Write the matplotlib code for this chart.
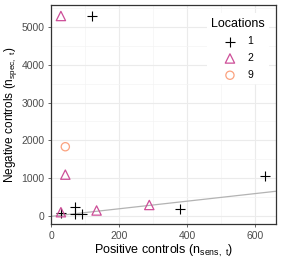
import matplotlib
matplotlib.use('Agg')
import matplotlib.pyplot as plt
from matplotlib.ticker import MultipleLocator

plt.rcParams['font.family'] = ['Liberation Sans', 'DejaVu Sans']
plt.rcParams['mathtext.fontset'] = 'custom'
plt.rcParams['mathtext.rm'] = 'Liberation Sans'

# data
loc1_x = [120, 630, 380, 28, 70, 70, 92]
loc1_y = [5270, 1075, 185, 80, 235, 55, 55]
loc2_x = [29, 42, 29, 134, 289]
loc2_y = [5280, 1100, 110, 155, 300]
loc9_x = [42]
loc9_y = [1835]

fig = plt.figure(figsize=(2.82, 2.63), dpi=100)
ax = fig.add_axes([0.181, 0.147, 0.798, 0.834])

# identity line
ax.axline((0, 0), slope=1, color='#B3B3B3', lw=0.9, zorder=2)

ax.scatter(loc1_x, loc1_y, marker='+', s=60, color='black', lw=0.8, label='1', zorder=3)
ax.scatter(loc2_x, loc2_y, marker='^', s=45, facecolor='none', edgecolor='#CD4E98', lw=0.9, label='2', zorder=3)
ax.scatter(loc9_x, loc9_y, marker='o', s=35, facecolor='none', edgecolor='#FBA27F', lw=0.9, label='9', zorder=3)

ax.set_xlim(0, 662)
ax.set_ylim(-210, 5570)
ax.xaxis.set_major_locator(MultipleLocator(200))
ax.xaxis.set_minor_locator(MultipleLocator(100))
ax.yaxis.set_major_locator(MultipleLocator(1000))
ax.yaxis.set_minor_locator(MultipleLocator(500))
ax.grid(which='major', color='#EBEBEB', lw=0.8, zorder=0)
ax.grid(which='minor', color='#F4F4F4', lw=0.5, zorder=0)
ax.set_axisbelow(True)
for s in ax.spines.values():
    s.set_color('#333333')
    s.set_linewidth(0.9)
ax.tick_params(which='major', labelsize=7.5, colors='#4D4D4D', length=2.5, width=0.6, pad=2)
ax.tick_params(which='minor', length=0)

ax.set_xlabel(r'Positive controls ($\mathregular{n_{sens,\ t}}$)', fontsize=9, labelpad=2)
ax.set_ylabel(r'Negative controls ($\mathregular{n_{spec,\ t}}$)', fontsize=8.5, labelpad=2)

leg = ax.legend(title='Locations', loc='upper right', fontsize=7.5, title_fontsize=9,
                frameon=True, facecolor='white', edgecolor='white', framealpha=1,
                handletextpad=0.9, labelspacing=0.65, borderpad=0.4, handlelength=1.6,
                bbox_to_anchor=(0.99, 0.985))
leg.get_frame().set_linewidth(0)

fig.savefig('out.png', dpi=100)
